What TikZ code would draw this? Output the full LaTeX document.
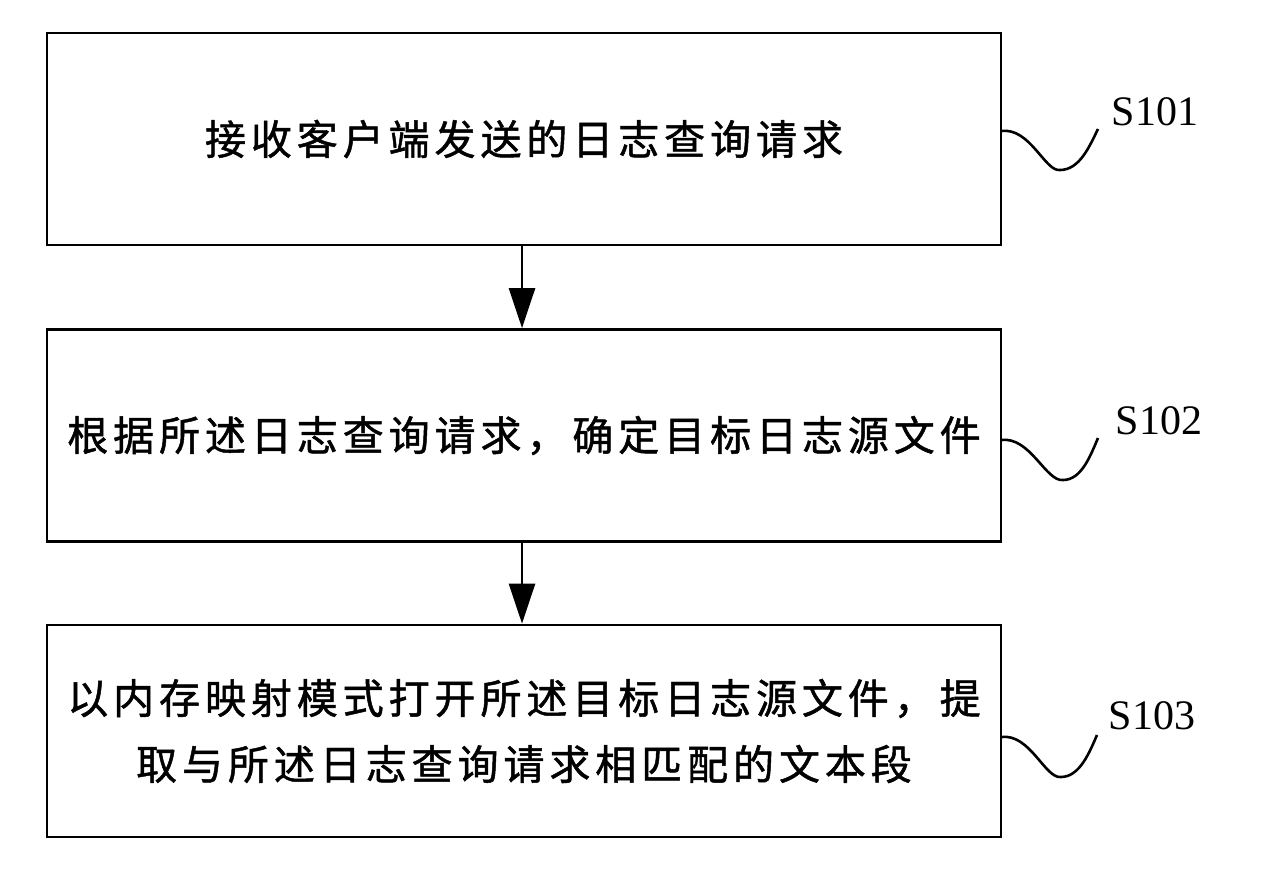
\documentclass[tikz,border=0pt]{standalone}
\usepackage{fontspec}
\setmainfont{Liberation Serif}
\newfontfamily\cjk[LetterSpace=12,FakeBold=1.2]{Noto Sans CJK SC}
\usetikzlibrary{arrows.meta}
\begin{document}
\begin{tikzpicture}[x=1pt,y=-1pt,
  stepbox/.style={draw,line width=2.8pt,minimum width=954pt,minimum height=212pt,inner sep=0pt,
    font=\cjk\fontsize{41}{66}\selectfont,align=center},
  flow/.style={line width=2.8pt,-{Triangle[width=26pt,length=40pt]}},
  wave/.style={line width=2.6pt},
  lbl/.style={font=\fontsize{42}{50}\selectfont,inner sep=0pt}]
\useasboundingbox (0,0) rectangle (1276,881);
\node[stepbox] (b1) at (524,139) {接收客户端发送的日志查询请求};
\node[stepbox] (b2) at (524,435.5) {根据所述日志查询请求，确定目标日志源文件};
\node[stepbox] (b3) at (524,731) {以内存映射模式打开所述目标日志源文件，提\\取与所述日志查询请求相匹配的文本段};
\draw[flow] (b1.south -| 522,0) -- (b2.north -| 522,0);
\draw[flow] (b2.south -| 522,0) -- (b3.north -| 522,0);
\node[lbl] (s1) at (1155,112) {S101};
\node[lbl] (s2) at (1159,421) {S102};
\node[lbl] (s3) at (1152,716) {S103};
\coordinate (w1) at (1001,131);
\coordinate (w2) at (1001,440);
\coordinate (w3) at (1001,737);
\draw[wave] (w1) .. controls (1030,127) and (1045,172) .. (1060,170) .. controls (1080,170) and (1090,145) .. (1098,129);
\draw[wave] (w2) .. controls (1030,436) and (1046,482) .. (1063,480) .. controls (1082,480) and (1091,454) .. (1098,438);
\draw[wave] (w3) .. controls (1030,733) and (1045,779) .. (1061,777) .. controls (1080,777) and (1090,751) .. (1097,735);
\end{tikzpicture}
\end{document}
